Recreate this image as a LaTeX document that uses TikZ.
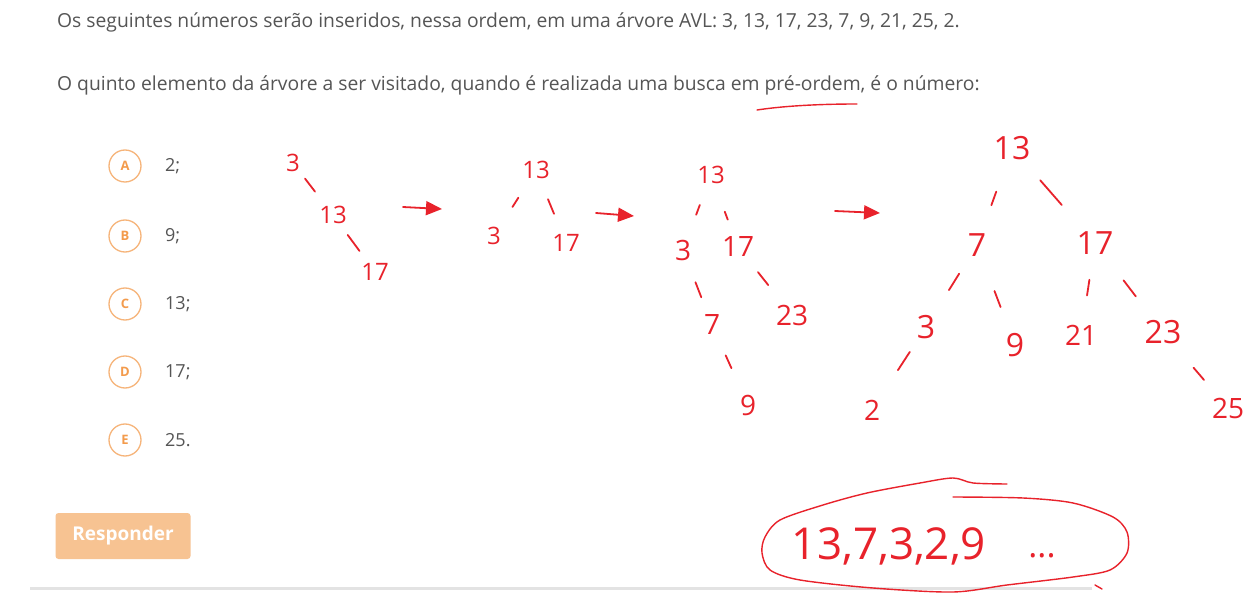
\documentclass[tikz,border=0pt]{standalone}
\usepackage{fontspec}
\setmainfont{Open Sans}
\usetikzlibrary{calc,arrows.meta}
\definecolor{txt}{HTML}{555555}
\definecolor{hand}{HTML}{E8222B}
\definecolor{opt}{HTML}{F39B4C}
\definecolor{optc}{HTML}{F6B47A}
\definecolor{btn}{HTML}{F7C392}
\definecolor{rulec}{HTML}{E3E3E3}
\begin{document}
\begin{tikzpicture}[x=1pt,y=-1pt,
 q/.style={anchor=west,inner sep=0pt,text=txt,font=\fontsize{19.3}{22}\selectfont},
 optcirc/.style={circle,draw=optc,line width=1.3pt,minimum size=32pt,inner sep=0pt,text=opt,font=\bfseries\fontsize{13}{15}\selectfont},
 opttext/.style={anchor=west,inner sep=0pt,text=txt,font=\fontsize{18}{21}\selectfont},
 numa/.style={text=hand,inner sep=1pt,font=\fontsize{24}{26}\selectfont},
 numb/.style={text=hand,inner sep=1pt,font=\fontsize{28}{30}\selectfont},
 numc/.style={text=hand,inner sep=1pt,font=\fontsize{32}{34}\selectfont},
 hw/.style={draw=hand,line width=1.8pt,line cap=round},
 harrow/.style={hw,-{Triangle[length=16pt,width=14pt]}},
]
\useasboundingbox[fill=white] (0,0) rectangle (1257,593);

% question text
\node[q] (l1) at (57,22) {Os seguintes números serão inseridos, nessa ordem, em uma árvore AVL: 3, 13, 17, 23, 7, 9, 21, 25, 2.};
\node[q] (l2) at (57,85) {O quinto elemento da árvore a ser visitado, quando é realizada uma busca em pré-ordem, é o número:};
\draw[hw,line width=1.4pt] (757,110) .. controls (790,105) and (830,104) .. (857,104);

% options
\foreach \L/\T/\y in {A/2;/166,B/9;/236,C/13;/304,D/17;/372,E/25./440}{
  \node[optcirc] (c\L) at (125,\y) {\L};
  \node[opttext] (o\L) at (165,\y) {\T};
}

% button
\node[fill=btn,rounded corners=3pt,minimum width=135pt,minimum height=46pt,text=white,font=\bfseries\fontsize{19}{22}\selectfont] (btn) at (123,536) {Responder};

% bottom rule
\draw[rulec,line width=3pt] (30,588) -- (1092,588);

% tree 1
\node[numa] (a1) at (293,163) {3};
\node[numa] (a2) at (333,215) {13};
\node[numa] (a3) at (375,272) {17};
\draw[hw] ($(a1)!.3!(a2)$) -- ($(a1)!.55!(a2)$);
\draw[hw] ($(a2)!.35!(a3)$) -- ($(a2)!.63!(a3)$);

\coordinate (p1) at (403,207);
\coordinate (q1) at (442,209);
\draw[harrow] (p1) -- (q1);

% tree 2
\node[numa] (b1) at (536,170) {13};
\node[numa] (b2) at (494,236) {3};
\node[numa] (b3) at (566,243) {17};
\draw[hw] ($(b1)!.42!(b2)$) -- ($(b1)!.56!(b2)$);
\draw[hw] ($(b1)!.4!(b3)$) -- ($(b1)!.6!(b3)$);

\coordinate (p2) at (596,213);
\coordinate (q2) at (634,216);
\draw[harrow] (p2) -- (q2);

% tree 3
\node[numa] (d1) at (711,175) {13};
\node[numb] (d2) at (683,250) {3};
\node[numb] (d3) at (738,247) {17};
\node[numb] (d4) at (712,325) {7};
\node[numb] (d5) at (792,315) {23};
\node[numb] (d6) at (748,405) {9};
\draw[hw] ($(d1)!.4!(d2)$) -- ($(d1)!.53!(d2)$);
\draw[hw] ($(d1)!.51!(d3)$) -- ($(d1)!.62!(d3)$);
\draw[hw] ($(d3)!.37!(d5)$) -- ($(d3)!.56!(d5)$);
\draw[hw] ($(d2)!.43!(d4)$) -- ($(d2)!.63!(d4)$);
\draw[hw] ($(d4)!.38!(d6)$) -- ($(d4)!.54!(d6)$);

\coordinate (p3) at (835,211);
\coordinate (q3) at (880,213);
\draw[harrow] (p3) -- (q3);

% tree 4
\node[numc] (e1) at (1012,148) {13};
\node[numc] (e2) at (977,245) {7};
\node[numc] (e3) at (1095,243) {17};
\node[numc] (e4) at (926,327) {3};
\node[numc] (e5) at (1015,345) {9};
\node[numb] (e6) at (1081,335) {21};
\node[numc] (e7) at (1163,332) {23};
\node[numb] (e8) at (872,410) {2};
\node[numb] (e9) at (1228,408) {25};
\draw[hw] ($(e1)!.45!(e2)$) -- ($(e1)!.59!(e2)$);
\draw[hw] ($(e1)!.34!(e3)$) -- ($(e1)!.6!(e3)$);
\draw[hw] ($(e2)!.35!(e4)$) -- ($(e2)!.55!(e4)$);
\draw[hw] ($(e2)!.46!(e5)$) -- ($(e2)!.62!(e5)$);
\draw[hw] ($(e3)!.4!(e6)$) -- ($(e3)!.57!(e6)$);
\draw[hw] ($(e3)!.42!(e7)$) -- ($(e3)!.6!(e7)$);
\draw[hw] ($(e4)!.3!(e8)$) -- ($(e4)!.52!(e8)$);
\draw[hw] ($(e7)!.47!(e9)$) -- ($(e7)!.63!(e9)$);

% answer
\node[text=hand,inner sep=0pt,font=\fontsize{44}{46}\selectfont] (ans) at (889,546) {13,7,3,2,9};
\node[text=hand,inner sep=0pt,font=\fontsize{34}{36}\selectfont] (dots) at (1042,556) {...};
\draw[hw,line width=1.4pt] plot[smooth] coordinates {(1007,484) (973,483) (953,478) (920,483) (867,493) (823,505) (780,520) (765,537) (762,553) (770,570) (800,580) (873,588) (953,592) (1007,585) (1073,577) (1110,570) (1127,553) (1127,532) (1113,517) (1073,503) (1023,498) (953,497)};
\draw[hw,line width=1.4pt] (1095,585) -- (1102,589);
\end{tikzpicture}
\end{document}
